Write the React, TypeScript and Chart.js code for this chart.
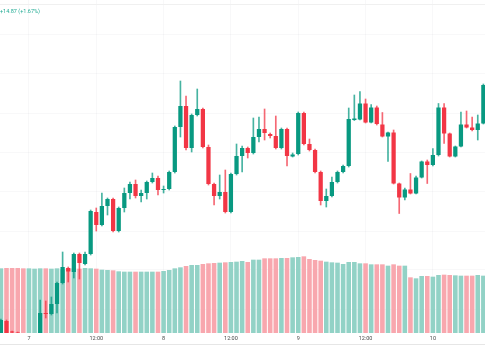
import { useEffect, useRef } from "react";
import { Chart, registerables } from "chart.js";

Chart.register(...registerables);

// hourly candles, first one = day 6 19:00, last one = day 10 09:00
const tickIndex = [5, 17, 29, 41, 53, 65, 77];
const tickLabels = ["7", "12:00", "8", "12:00", "9", "12:00", "10"];

const openP = [
  873.2, 875.8, 873.7, 873.5, 871.5, 870.2, 871.8, 872.8, 877.4, 877.2,
  879.2, 883.4, 886.4, 885.6, 889.2, 887.2, 889.2, 897.6, 895.0, 898.8,
  900.2, 893.8, 898.4, 901.4, 903.2, 900.8, 901.4, 903.6, 904.4, 902.0,
  902.2, 905.6, 914.6, 918.8, 910.4, 917.0, 918.2, 910.6, 903.2, 900.8,
  901.6, 897.6, 905.2, 908.8, 910.4, 909.4, 912.6, 914.2, 913.2, 912.8,
  910.4, 914.2, 908.7, 909.2, 917.4, 911.2, 910.0, 905.6, 899.8, 900.8,
  903.6, 905.6, 906.8, 916.0, 916.1, 919.3, 915.5, 918.5, 915.1, 912.7,
  913.5, 903.3, 900.5, 902.1, 901.3, 904.5, 907.7, 907.0, 909.0, 918.5,
  913.3, 908.7, 910.7, 915.1, 914.5, 914.0, 915.3,
];
const closeP = [
  876.0, 873.2, 873.5, 871.5, 870.2, 871.8, 872.4, 877.4, 877.2, 879.2,
  883.4, 886.6, 885.7, 889.2, 887.4, 889.2, 897.8, 895.0, 898.8, 900.2,
  893.8, 898.4, 901.4, 903.2, 900.8, 901.4, 903.6, 904.4, 902.0, 902.2,
  905.6, 914.6, 918.8, 910.4, 917.0, 918.2, 910.6, 903.2, 900.8, 901.6,
  897.6, 905.2, 908.8, 910.4, 909.4, 912.6, 914.2, 913.4, 912.8, 910.4,
  914.2, 908.8, 909.1, 917.4, 911.2, 910.0, 905.6, 899.8, 900.8, 903.6,
  905.6, 906.8, 916.2, 916.3, 919.3, 915.5, 918.5, 915.2, 912.7, 913.5,
  903.3, 900.5, 902.1, 901.3, 904.5, 907.7, 907.0, 909.0, 918.5, 913.3,
  908.7, 910.7, 915.1, 914.5, 914.0, 915.3, 923.0,
];
const highP = [
  876.2, 876.0, 873.8, 873.6, 872.0, 872.3, 872.8, 880.0, 879.8, 880.6,
  883.6, 889.6, 886.6, 889.4, 889.4, 889.6, 898.0, 898.4, 901.4, 900.4,
  900.4, 898.6, 902.4, 903.6, 904.0, 902.0, 903.8, 905.4, 904.8, 902.8,
  905.8, 914.8, 923.8, 920.8, 917.2, 922.2, 918.4, 911.0, 903.4, 905.0,
  906.0, 905.4, 911.2, 910.8, 910.6, 916.4, 916.6, 918.2, 913.4, 916.8,
  914.4, 914.4, 909.4, 917.6, 917.6, 912.2, 910.2, 905.8, 902.2, 904.6,
  905.8, 907.0, 918.4, 921.0, 921.7, 920.2, 919.1, 918.8, 917.5, 913.6,
  914.0, 903.4, 902.4, 905.3, 904.8, 907.8, 908.0, 910.3, 919.3, 919.3,
  913.4, 910.8, 917.6, 917.8, 916.6, 917.0, 923.2,
];
const lowP = [
  872.8, 872.8, 873.2, 870.8, 869.5, 869.8, 871.0, 872.4, 876.4, 877.0,
  877.4, 883.2, 883.6, 884.4, 884.2, 887.0, 889.0, 893.8, 894.8, 897.0,
  893.6, 893.6, 897.6, 900.2, 900.4, 899.6, 900.2, 903.4, 901.0, 901.4,
  902.0, 905.4, 912.6, 910.0, 909.6, 916.8, 910.4, 903.0, 899.0, 900.2,
  897.4, 897.4, 905.0, 905.6, 908.4, 909.2, 911.6, 912.0, 912.4, 910.2,
  910.2, 906.8, 908.6, 909.0, 911.0, 909.8, 905.4, 899.0, 898.6, 900.6,
  903.4, 905.4, 906.6, 915.9, 916.0, 915.4, 915.4, 915.0, 912.6, 907.7,
  903.2, 897.3, 900.0, 901.2, 901.2, 904.4, 903.3, 906.8, 908.8, 911.3,
  908.6, 908.6, 910.6, 914.4, 913.8, 912.0, 915.2,
];
const volume = [
  97, 97.5, 97.5, 97.5, 97, 97, 96.5, 97, 97, 96.5,
  97, 95.5, 96.5, 97, 96.5, 97.5, 97, 96.5, 95, 94.5,
  94, 92.5, 92, 92, 92, 92, 92, 92, 92, 93,
  94.5, 97, 98.5, 100.5, 102, 102, 103.5, 104.5, 105, 105.5,
  106, 106.5, 107, 108, 106.5, 110, 110, 112, 112, 112,
  112.5, 112.5, 113.5, 114, 115, 111, 109.5, 108.5, 107, 106,
  105.5, 103.5, 106.5, 106.5, 104.5, 104.5, 103, 103, 103, 101,
  103, 101, 101, 83.5, 82, 85.5, 85.5, 84.5, 87, 87.5,
  87, 86.5, 86, 86, 86, 87, 86,
];
const gridPrices = [933.0, 925.2, 917.3, 909.5, 901.7, 893.8, 886.0, 878.1];

const UP = "#089981";
const DOWN = "#f23645";
const UP_WICK = "rgba(8,153,129,0.75)";
const DOWN_WICK = "rgba(242,54,69,0.75)";
const UP_VOL = "#92d2c6";
const DOWN_VOL = "#f8a7ae";
const GRID = "rgba(42,46,57,0.03)";

export default function App() {
  const ref = useRef<HTMLCanvasElement>(null);

  useEffect(() => {
    document.body.style.margin = "0";
    const idx = openP.map((_, i) => i);
    const up = idx.map((i) => closeP[i] >= openP[i]);
    const chart = new Chart(ref.current as HTMLCanvasElement, {
      type: "bar",
      data: {
        datasets: [
          {
            label: "body",
            data: idx.map((i) => ({ x: i, y: [openP[i], closeP[i]] })) as any,
            backgroundColor: up.map((u) => (u ? UP : DOWN)),
            grouped: false,
            categoryPercentage: 0.76,
            barPercentage: 1,
            borderWidth: 0,
            order: 0,
            yAxisID: "y",
            clip: 0,
          } as any,
          {
            label: "wick",
            data: idx.map((i) => ({ x: i, y: [lowP[i], highP[i]] })) as any,
            backgroundColor: up.map((u) => (u ? UP_WICK : DOWN_WICK)),
            grouped: false,
            barThickness: 1,
            borderWidth: 0,
            order: 1,
            yAxisID: "y",
            clip: 0,
          } as any,
          {
            label: "volume",
            data: idx.map((i) => ({ x: i, y: volume[i] })) as any,
            backgroundColor: up.map((u) => (u ? UP_VOL : DOWN_VOL)),
            grouped: false,
            categoryPercentage: 0.82,
            barPercentage: 1,
            borderWidth: 0,
            order: 2,
            yAxisID: "vol",
            clip: 0,
          } as any,
        ],
      },
      options: {
        animation: false,
        responsive: false,
        devicePixelRatio: 1,
        layout: { padding: 0 },
        plugins: { legend: { display: false }, tooltip: { enabled: false } },
        scales: {
          x: {
            type: "linear",
            position: "bottom",
            min: -0.16,
            max: 86.29,
            offset: false,
            grid: { color: GRID, drawTicks: false, offset: false },
            border: { display: false },
            ticks: {
              autoSkip: false,
              maxRotation: 0,
              padding: 2,
              color: "#4a4a4a",
              font: { size: 5.5, family: "Roboto, 'Liberation Sans', sans-serif" },
              callback: (v: any) => {
                const k = tickIndex.indexOf(Number(v));
                return k >= 0 ? tickLabels[k] : "";
              },
            },
            afterBuildTicks: (s: any) => {
              s.ticks = tickIndex.map((v) => ({ value: v }));
            },
            afterFit: (s: any) => {
              s.height = 12;
            },
          } as any,
          y: {
            type: "linear",
            position: "right",
            min: 873.4,
            max: 940,
            grid: { color: GRID, drawTicks: false },
            border: { display: false },
            ticks: { display: false },
            afterBuildTicks: (s: any) => {
              s.ticks = gridPrices.map((v) => ({ value: v }));
            },
            afterFit: (s: any) => {
              s.width = 0;
            },
          } as any,
          vol: {
            type: "linear",
            display: false,
            min: 0,
            max: 499.5,
          },
        },
      },
    });
    return () => chart.destroy();
  }, []);

  return (
    <div style={{ position: "relative", width: 485, height: 360, background: "#fff", overflow: "hidden" }}>
      <canvas ref={ref} width={485} height={345} style={{ position: "absolute", left: 0, top: 0 }} />
      <div style={{ position: "absolute", left: 0, top: 4, width: 485, height: 1, background: "#f0f0f0" }} />
      <div
        style={{
          position: "absolute",
          left: 0,
          top: 8,
          fontFamily: "Roboto, 'Liberation Sans', sans-serif",
          fontSize: 5.5,
          lineHeight: "7px",
          color: "#22ab94",
          whiteSpace: "nowrap",
        }}
      >
        +14.87 (+1.67%)
      </div>
      <div style={{ position: "absolute", left: 0, top: 344, width: 485, height: 1, background: "#e6e6e6" }} />
    </div>
  );
}
